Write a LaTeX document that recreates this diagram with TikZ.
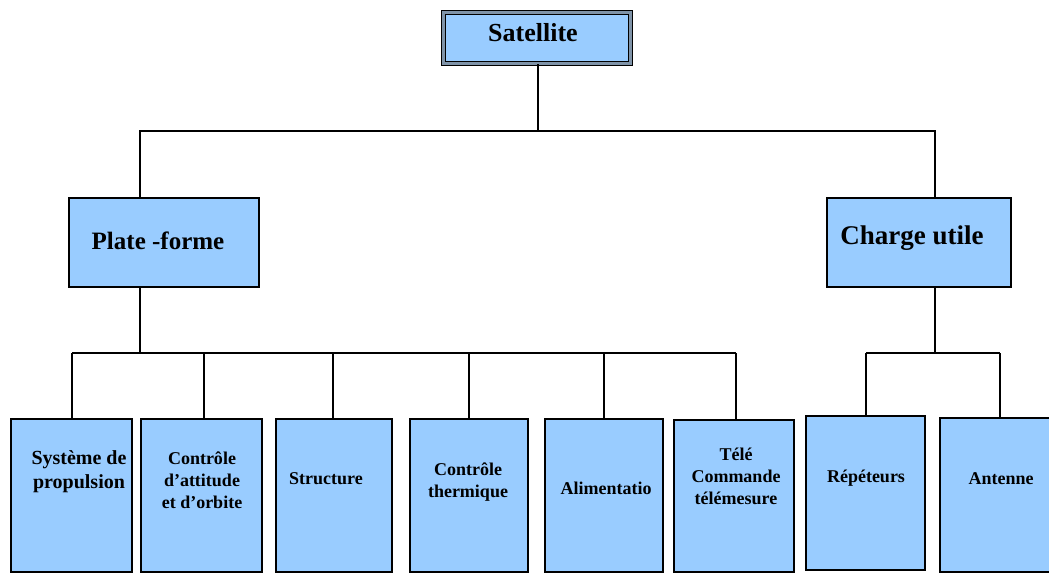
\documentclass[tikz,border=0pt]{standalone}
\usepackage{fontspec}
\setmainfont{Liberation Serif}
\definecolor{boxblue}{HTML}{99CCFF}
\definecolor{gapgray}{HTML}{7F93A8}
\begin{document}
\begin{tikzpicture}[x=1pt,y=-1pt,
  box/.style={draw=black, line width=2pt, fill=boxblue, inner sep=0pt, rectangle},
  lbl/.style={font=\bfseries\fontsize{18}{22}\selectfont, align=center, inner sep=0pt},
  big/.style={font=\bfseries\fontsize{26}{30}\selectfont, inner sep=0pt},
  conn/.style={line width=1.8pt}]
\useasboundingbox (0,0) rectangle (1049,573);
% top
\node[box, line width=1.4pt, double=gapgray, double distance=3pt,
      minimum width=187pt, minimum height=51pt] (sat) at (537,38) {};
\node[big] (satT) at (533,33) {Satellite};
% second level
\node[box, minimum width=190pt, minimum height=89pt] (plat) at (164,242.5) {};
\node[big, font=\bfseries\fontsize{25}{30}\selectfont] (platT) at (158,241) {Plate -forme};
\node[box, minimum width=184pt, minimum height=89pt] (charge) at (919,242.5) {};
\node[big, font=\bfseries\fontsize{27}{30}\selectfont] (chargeT) at (912,238) {Charge utile};
% bottom boxes
\node[box, minimum width=121pt, minimum height=153pt] (b1) at (71.5,495.5) {};
\node[box, minimum width=121pt, minimum height=153pt] (b2) at (201.5,495.5) {};
\node[box, minimum width=116pt, minimum height=153pt] (b3) at (334,495.5) {};
\node[box, minimum width=118pt, minimum height=153pt] (b4) at (469,495.5) {};
\node[box, minimum width=118pt, minimum height=153pt] (b5) at (604,495.5) {};
\node[box, minimum width=120pt, minimum height=152pt] (b6) at (734,496) {};
\node[box, minimum width=119pt, minimum height=154pt] (b7) at (865.5,493) {};
\node[box, minimum width=112pt, minimum height=154pt] (b8) at (996,495) {};
\node[lbl, font=\bfseries\fontsize{20}{24}\selectfont] (t1) at (79,472) {Système de\\propulsion};
\node[lbl] (t2) at (202,480) {Contrôle\\d’attitude\\et d’orbite};
\node[lbl] (t3) at (326,479) {Structure};
\node[lbl] (t4) at (468,482) {Contrôle\\thermique};
\node[lbl] (t5) at (606,488) {Alimentatio};
\node[lbl] (t6) at (736,476) {Télé\\Commande\\télémesure};
\node[lbl] (t7) at (866,478) {Répéteurs};
\node[lbl] (t8) at (1001,479) {Antenne};
% connectors
\coordinate (top) at (538,131);
\coordinate (pl) at (140,131);
\coordinate (cr) at (935,131);
\draw[conn] (sat.south -| top) -- (top);
\draw[conn] (pl |- plat.north) -- (pl) -- (cr) -- (cr |- charge.north);
\coordinate (busL) at (140,353);
\coordinate (busR) at (935,353);
\draw[conn] (busL |- plat.south) -- (busL);
\draw[conn] (busR |- charge.south) -- (busR);
\draw[conn] (72,353) coordinate (bl1) -- (736,353) coordinate (bl2);
\draw[conn] (866,353) coordinate (br1) -- (1000,353) coordinate (br2);
\foreach \n/\x in {b1/72,b2/204,b3/333,b4/469,b5/604,b6/736}
  \draw[conn] (\x,353) -- (\x,0 |- \n.north);
\foreach \n/\x in {b7/866,b8/1000}
  \draw[conn] (\x,353) -- (\x,0 |- \n.north);
\end{tikzpicture}
\end{document}
